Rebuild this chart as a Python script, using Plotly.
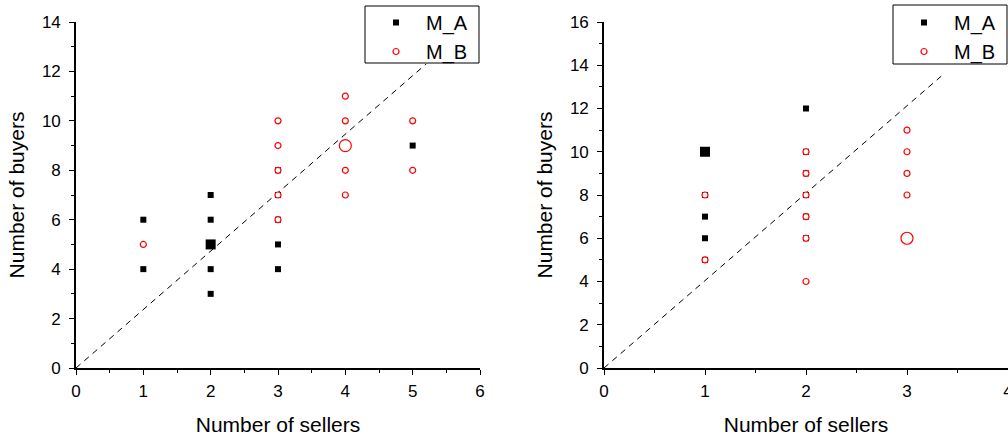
import plotly.graph_objects as go

# Left panel: market A vs market B observations
left_a_x = [1, 1, 2, 2, 2, 2, 3, 3, 3, 3, 3, 5]
left_a_y = [6, 4, 7, 6, 4, 3, 8, 7, 6, 5, 4, 9]
left_a_big_x = [2]
left_a_big_y = [5]
left_b_x = [1, 3, 3, 3, 3, 3, 4, 4, 4, 4, 5, 5]
left_b_y = [5, 10, 9, 8, 7, 6, 11, 10, 8, 7, 10, 8]
left_b_big_x = [4]
left_b_big_y = [9]
left_ref_x = [0, 5.2]
left_ref_y = [0, 12.3]

# Right panel
right_a_x = [1, 1, 1, 1, 2, 2, 2, 2, 2, 2]
right_a_y = [8, 7, 6, 5, 12, 10, 9, 8, 7, 6]
right_a_big_x = [1]
right_a_big_y = [10]
right_b_x = [1, 1, 2, 2, 2, 2, 2, 2, 3, 3, 3, 3]
right_b_y = [8, 5, 10, 9, 8, 7, 6, 4, 11, 10, 9, 8]
right_b_big_x = [3]
right_b_big_y = [6]
right_ref_x = [0, 3.34]
right_ref_y = [0, 13.5]

FONT = "Liberation Sans, Arial, sans-serif"
RED = "#ff0000"
W, H = 1008, 436

fig = go.Figure()


def add_panel(xa, ya, legend, ax, ay, abx, aby, bx, by, bbx, bby, rx, ry):
    fig.add_trace(go.Scatter(x=rx, y=ry, mode="lines", xaxis=xa, yaxis=ya,
                             line=dict(color="black", width=1, dash="6px,5px"),
                             showlegend=False, hoverinfo="skip"))
    fig.add_trace(go.Scatter(x=ax, y=ay, mode="markers", name="M_A", xaxis=xa, yaxis=ya,
                             legend=legend,
                             marker=dict(symbol="square", size=6, color="black")))
    fig.add_trace(go.Scatter(x=abx, y=aby, mode="markers", xaxis=xa, yaxis=ya,
                             showlegend=False,
                             marker=dict(symbol="square", size=10, color="black")))
    # white-filled circles sit on top of the squares
    fig.add_trace(go.Scatter(x=bx, y=by, mode="markers", name="M_B", xaxis=xa, yaxis=ya,
                             legend=legend,
                             marker=dict(symbol="circle", size=6, color="white",
                                         line=dict(color=RED, width=1.2))))
    fig.add_trace(go.Scatter(x=bbx, y=bby, mode="markers", xaxis=xa, yaxis=ya,
                             showlegend=False,
                             marker=dict(symbol="circle-open", size=12, color=RED,
                                         line=dict(color=RED, width=1.2))))


add_panel("x", "y", "legend", left_a_x, left_a_y, left_a_big_x, left_a_big_y,
          left_b_x, left_b_y, left_b_big_x, left_b_big_y, left_ref_x, left_ref_y)
add_panel("x2", "y2", "legend2", right_a_x, right_a_y, right_a_big_x, right_a_big_y,
          right_b_x, right_b_y, right_b_big_x, right_b_big_y, right_ref_x, right_ref_y)

axis_common = dict(
    showline=True, linecolor="black", linewidth=1.6, mirror=False,
    showgrid=False, zeroline=False, automargin=False,
    ticks="outside", ticklen=5, tickwidth=1.3, tickcolor="black",
    tickfont=dict(family=FONT, size=17, color="black"),
    title_font=dict(family=FONT, size=21, color="black"),
    ticklabeloverflow="allow",
)

legend_common = dict(
    bgcolor="rgba(0,0,0,0)", borderwidth=0,
    font=dict(family=FONT, size=20, color="black"),
    xanchor="left", yanchor="top", itemwidth=50, tracegroupgap=0,
)

x_minor = dict(dtick=0.5, ticks="outside", ticklen=3, tickcolor="black", tickwidth=1.3)
y_minor = dict(dtick=1, ticks="outside", ticklen=3, tickcolor="black", tickwidth=1.3)

# legend frames (paper pixels: left, top, right, bottom)
legend_boxes = [(365, 6, 479, 63), (893, 5, 1007, 64)]
shapes = [
    dict(type="rect", xref="paper", yref="paper", layer="above",
         x0=l / W, x1=r / W, y0=1 - b / H, y1=1 - t / H,
         fillcolor="white", line=dict(color="black", width=1))
    for (l, t, r, b) in legend_boxes
]

fig.update_layout(
    width=W, height=H,
    margin=dict(l=0, r=0, t=0, b=0, autoexpand=False),
    paper_bgcolor="white", plot_bgcolor="white",
    xaxis=dict(axis_common, domain=[76 / W, 480 / W], range=[0, 6], dtick=1,
               minor=x_minor, ticklabelstandoff=2,
               title=dict(text="Number of sellers", standoff=20), anchor="y"),
    yaxis=dict(axis_common, domain=[68 / H, 414 / H], range=[0, 14], dtick=2,
               minor=y_minor, ticklabelstandoff=5,
               title=dict(text="Number of buyers", standoff=12), anchor="x"),
    xaxis2=dict(axis_common, domain=[604 / W, 1.0], range=[0, 4], dtick=1,
                minor=x_minor, ticklabelstandoff=2,
                title=dict(text="Number of sellers", standoff=20), anchor="y2"),
    yaxis2=dict(axis_common, domain=[68 / H, 414 / H], range=[0, 16], dtick=2,
                minor=y_minor, ticklabelstandoff=5,
                title=dict(text="Number of buyers", standoff=12), anchor="x2"),
    shapes=shapes,
    legend=dict(legend_common, x=366 / W, y=1 - 3 / H),
    legend2=dict(legend_common, x=894 / W, y=1 - 3 / H),
)

fig.write_html("out.html")
